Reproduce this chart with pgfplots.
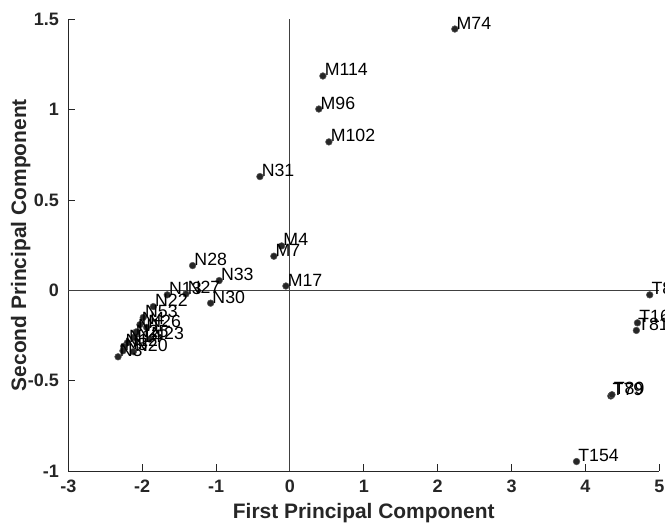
\documentclass[border=0pt]{standalone}
\usepackage{pgfplots}
\pgfplotsset{compat=1.18}
\usepackage{pgfplotstable}
\usepackage{fontspec}
\setmainfont{Liberation Sans}
\definecolor{axgray}{RGB}{38,38,38}

% scores on the first two principal components
\pgfplotstableread{
x y lab
2.233 1.447 M74
0.447 1.187 M114
0.392 1.004 M96
0.528 0.822 M102
-0.406 0.630 N31
-0.112 0.246 M4
-0.217 0.189 M7
-0.054 0.024 M17
-1.317 0.137 N28
-0.957 0.054 N33
-1.073 -0.071 N30
-1.660 -0.025 N13
-1.407 -0.020 N27
-1.849 -0.090 N22
-1.985 -0.150 N53
-2.030 -0.190 N4
-1.940 -0.205 N26
-2.080 -0.230 N1
-2.110 -0.260 N25
-1.900 -0.270 N23
-2.200 -0.290 N14
-2.250 -0.310 N12
-2.260 -0.335 N5
-2.120 -0.340 N20
-2.326 -0.368 N3
4.871 -0.025 T8
4.705 -0.180 T16
4.690 -0.222 T81
4.344 -0.585 T79
4.360 -0.578 T89
3.880 -0.948 T154
}\scores

\begin{document}
\begin{tikzpicture}
\begin{axis}[
  scale only axis, width=443.25pt, height=338.6pt,
  xmin=-3, xmax=5, ymin=-1, ymax=1.5,
  axis lines*=left, axis line style={-, axgray, line width=0.6pt},
  tick align=inside, major tick length=5pt, tick style={axgray, line width=0.6pt},
  xtick={-3,-2,...,5}, ytick={-1,-0.5,0,0.5,1,1.5},
  /pgf/number format/assume math mode=true,
  ticklabel style={font=\fontsize{13.5}{15}\selectfont\bfseries, text=axgray},
  xticklabel style={yshift=-3pt},
  yticklabel style={xshift=-3.5pt},
  xlabel={First Principal Component}, ylabel={Second Principal Component},
  label style={font=\fontsize{15.7}{18}\selectfont\bfseries, text=axgray},
  xlabel style={at={(axis description cs:0.5,-0.1050)}, anchor=base},
  ylabel style={at={(axis description cs:-0.0715,0.5)}, anchor=base},
  clip=false,
]
\draw[black!75, line width=0.6pt] (axis cs:0,-1) -- (axis cs:0,1.5);
\draw[black!75, line width=0.6pt] (axis cs:-3,0) -- (axis cs:5,0);
\addplot[only marks, mark=*, mark size=2.5pt,
  mark options={fill=black!85, draw=black!65},
  point meta=explicit symbolic, nodes near coords,
  every node near coord/.append style={anchor=base west, inner sep=0pt,
    xshift=1.2pt, font=\fontsize{13.3}{15}\selectfont, text=black}]
  table[x=x, y=y, meta=lab] {\scores};
\coordinate (ll) at (rel axis cs:0,0);
\coordinate (ur) at (rel axis cs:1,1);
\end{axis}
\pgfresetboundingbox
\path ([shift={(-51.2pt,-39pt)}]ll) rectangle ([shift={(4.3pt,14.6pt)}]ur);
\end{tikzpicture}
\end{document}
